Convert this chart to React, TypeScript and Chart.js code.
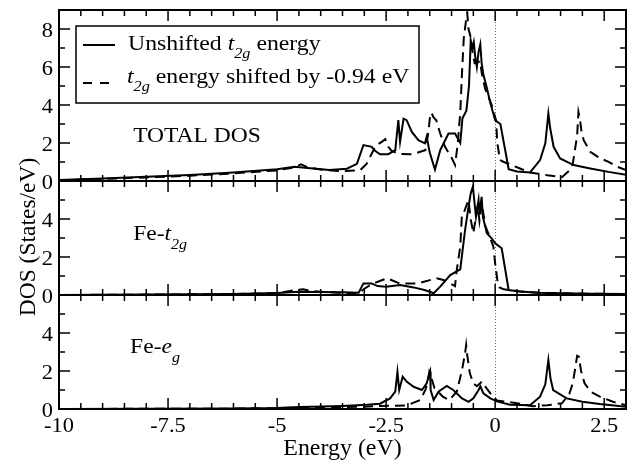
import React, { useEffect, useRef } from "react";
import { Chart, registerables } from "chart.js";
Chart.register(...registerables);

const FONT = '"Liberation Serif", "Times New Roman", serif';

// ---------- DATA ----------
const xMin = -10;
const xMax = 3;
const xMinorStep = 0.5;
const xMajorStep = 2.5;
const xTickValues = [-10, -7.5, -5, -2.5, 0, 2.5];
const xTickLabels = ["-10", "-7.5", "-5", "-2.5", "0", "2.5"];

const panelIds = ["yTotal", "yT2g", "yEg"];
const panelMax = [9, 6, 6];
const panelTickLabels = [
  [0, 2, 4, 6, 8],
  [0, 2, 4],
  [0, 2, 4],
];

// TOTAL DOS
const totalUnshiftedE = [-10, -9, -8, -7, -6, -5, -4.6, -4.3, -3.8, -3.4, -3.17, -3.02, -2.83, -2.76, -2.64, -2.45, -2.29, -2.22, -2.18, -2.10, -2.03, -1.91, -1.76, -1.61, -1.57, -1.5, -1.38, -1.26, -1.07, -0.92, -0.80, -0.75, -0.66, -0.60, -0.56, -0.52, -0.49, -0.46, -0.42, -0.38, -0.34, -0.31, -0.27, -0.19, -0.115, 0.0, 0.12, 0.31, 0.5, 0.8, 1.03, 1.15, 1.22, 1.26, 1.34, 1.49, 1.8, 2.18, 2.6, 3.0];
const totalUnshiftedV = [0.05, 0.13, 0.22, 0.32, 0.45, 0.62, 0.75, 0.68, 0.58, 0.65, 0.9, 1.89, 1.8, 1.6, 1.41, 1.41, 1.62, 3.2, 2.06, 3.28, 3.2, 2.58, 2.15, 1.98, 2.32, 1.5, 0.6, 1.62, 2.5, 2.5, 2.0, 3.3, 3.7, 5.0, 7.4, 7.0, 7.3, 6.6, 6.0, 6.8, 7.2, 6.2, 5.6, 4.9, 4.15, 3.2, 3.0, 0.62, 0.5, 0.45, 1.1, 1.98, 3.55, 2.8, 1.8, 1.19, 0.84, 0.66, 0.48, 0.33];

const totalShiftedE = [-10, -9, -8, -7, -6, -5, -4.6, -4.45, -4.3, -4.0, -3.6, -3.1, -2.95, -2.79, -2.72, -2.6, -2.52, -2.45, -2.38, -2.2, -1.9, -1.7, -1.6, -1.53, -1.49, -1.46, -1.42, -1.35, -1.26, -1.15, -0.99, -0.92, -0.86, -0.80, -0.76, -0.72, -0.665, -0.64, -0.61, -0.57, -0.52, -0.47, -0.42, -0.34, -0.31, -0.23, -0.15, -0.08, 0.02, 0.05, 0.11, 0.2, 0.57, 0.8, 1.2, 1.53, 1.7, 1.78, 1.84, 1.88, 1.91, 1.94, 1.98, 2.03, 2.18, 2.4, 2.6, 2.8, 3.0];
const totalShiftedV = [0.04, 0.11, 0.19, 0.28, 0.4, 0.56, 0.72, 0.88, 0.72, 0.6, 0.52, 0.56, 0.9, 1.62, 1.89, 2.06, 2.2, 1.8, 1.6, 1.42, 1.41, 1.55, 1.62, 2.58, 3.46, 3.6, 3.37, 3.2, 2.5, 1.8, 1.19, 0.84, 1.9, 3.6, 5.7, 7.5, 8.5, 8.85, 8.0, 7.65, 6.8, 6.2, 6.25, 6.3, 5.7, 4.86, 4.42, 4.0, 3.2, 2.0, 1.1, 1.0, 0.66, 0.45, 0.3, 0.2, 0.55, 0.9, 1.8, 2.4, 3.63, 3.3, 2.6, 2.15, 1.54, 1.2, 1.01, 0.75, 0.58];

// Fe-t2g
const t2gUnshiftedE = [-10, -8, -6, -5, -4.5, -4, -3.5, -3.13, -3.02, -2.83, -2.7, -2.5, -2.18, -1.87, -1.6, -1.41, -1.26, -1.03, -0.80, -0.69, -0.61, -0.56, -0.51, -0.48, -0.44, -0.38, -0.36, -0.31, -0.28, -0.19, -0.08, 0.0, 0.15, 0.31, 0.57, 1.0, 1.5, 2.2, 3.0];
const t2gUnshiftedV = [0.0, 0.02, 0.05, 0.1, 0.17, 0.16, 0.14, 0.12, 0.61, 0.61, 0.47, 0.44, 0.53, 0.4, 0.25, 0.09, 0.44, 1.05, 1.35, 3.42, 4.65, 5.35, 5.7, 5.0, 4.12, 5.0, 4.3, 5.17, 4.1, 3.25, 2.98, 2.72, 2.46, 0.26, 0.18, 0.12, 0.09, 0.07, 0.05];

const t2gShiftedE = [-10, -8, -6, -5, -4.6, -4.4, -4.2, -3.5, -3.13, -3.0, -2.8, -2.48, -2.18, -1.8, -1.34, -1.19, -0.92, -0.88, -0.80, -0.76, -0.71, -0.66, -0.61, -0.57, -0.50, -0.45, -0.40, -0.36, -0.31, -0.22, -0.11, -0.04, 0.0, 0.05, 0.1, 0.2, 0.5, 1.0, 2.0, 3.0];
const t2gShiftedV = [0.0, 0.02, 0.05, 0.1, 0.25, 0.3, 0.2, 0.1, 0.08, 0.33, 0.6, 0.88, 0.6, 0.6, 0.88, 0.79, 0.47, 1.32, 2.54, 4.3, 4.38, 4.7, 5.0, 4.1, 3.25, 4.0, 4.7, 3.9, 4.8, 3.6, 2.98, 2.54, 1.67, 0.79, 0.4, 0.3, 0.2, 0.12, 0.07, 0.05];

// Fe-eg
const egUnshiftedE = [-10, -8, -6, -5, -4.47, -3.5, -2.94, -2.64, -2.41, -2.29, -2.24, -2.2, -2.12, -2.03, -1.87, -1.68, -1.57, -1.49, -1.48, -1.41, -1.30, -1.11, -0.96, -0.76, -0.61, -0.5, -0.38, -0.34, -0.27, -0.11, 0.04, 0.34, 0.8, 1.03, 1.15, 1.22, 1.27, 1.33, 1.64, 2.0, 2.4, 3.0];
const egUnshiftedV = [0.0, 0.01, 0.03, 0.05, 0.1, 0.16, 0.22, 0.28, 0.56, 0.91, 1.96, 1.0, 1.7, 1.44, 1.17, 1.0, 1.35, 1.96, 1.0, 0.47, 0.91, 1.21, 1.0, 0.56, 0.38, 0.56, 1.0, 1.2, 0.82, 0.56, 0.4, 0.22, 0.2, 0.65, 1.3, 2.58, 1.6, 1.0, 0.56, 0.38, 0.26, 0.12];

const egShiftedE = [-10, -8, -6, -5, -4.47, -3.0, -2.64, -2.03, -1.72, -1.6, -1.55, -1.51, -1.47, -1.39, -1.2, -1.05, -0.88, -0.76, -0.69, -0.665, -0.64, -0.58, -0.5, -0.42, -0.3, -0.2, -0.11, 0.04, 0.5, 0.86, 1.2, 1.53, 1.7, 1.78, 1.84, 1.88, 1.92, 1.97, 2.05, 2.2, 2.4, 2.7, 3.0];
const egShiftedV = [0.0, 0.01, 0.02, 0.04, 0.08, 0.12, 0.16, 0.18, 0.47, 1.0, 1.4, 1.96, 1.7, 1.09, 0.65, 0.47, 0.91, 2.05, 2.93, 3.37, 2.84, 1.88, 1.35, 1.2, 1.45, 1.1, 0.82, 0.45, 0.3, 0.15, 0.2, 0.3, 0.8, 1.35, 2.2, 2.8, 2.75, 2.0, 1.35, 0.9, 0.65, 0.38, 0.2];

const legendLabels = ["Unshifted", "energy shifted by -0.94 eV"];
const panelLabels = ["TOTAL DOS", "Fe-", "Fe-"];
// ---------- END DATA ----------

const toPoints = (xs: number[], ys: number[]) => xs.map((x, i) => ({ x, y: ys[i] }));

type Run = { t: string; size: number; italic?: boolean; dy?: number };

function runsWidth(ctx: CanvasRenderingContext2D, runs: Run[], sx: number) {
  let w = 0;
  for (const r of runs) {
    ctx.font = `${r.italic ? "italic " : ""}${r.size}px ${FONT}`;
    w += ctx.measureText(r.t).width * sx;
  }
  return w;
}

function drawRuns(ctx: CanvasRenderingContext2D, runs: Run[], x: number, y: number, sx: number) {
  let cx = x;
  ctx.textAlign = "left";
  ctx.textBaseline = "alphabetic";
  for (const r of runs) {
    ctx.font = `${r.italic ? "italic " : ""}${r.size}px ${FONT}`;
    ctx.save();
    ctx.translate(cx, y + (r.dy || 0));
    ctx.scale(sx, 1);
    ctx.fillText(r.t, 0, 0);
    ctx.restore();
    cx += ctx.measureText(r.t).width * sx;
  }
}

const decorPlugin = {
  id: "decor",
  beforeDatasetsDraw(chart: any) {
    const ctx: CanvasRenderingContext2D = chart.ctx;
    const ca = chart.chartArea;
    const x0 = chart.scales.x.getPixelForValue(0);
    ctx.save();
    ctx.strokeStyle = "#666";
    ctx.lineWidth = 1;
    ctx.setLineDash([1, 2]);
    ctx.beginPath();
    ctx.moveTo(Math.round(x0) + 0.5, ca.top);
    ctx.lineTo(Math.round(x0) + 0.5, ca.bottom);
    ctx.stroke();
    ctx.restore();
  },
  afterDatasetsDraw(chart: any) {
    const ctx: CanvasRenderingContext2D = chart.ctx;
    const ca = chart.chartArea;
    const xs = chart.scales.x;
    ctx.save();
    ctx.fillStyle = "#000";
    ctx.strokeStyle = "#000";

    const panels = panelIds.map((id, i) => {
      const s = chart.scales[id];
      return { s, top: s.getPixelForValue(panelMax[i]), bottom: s.getPixelForValue(0), max: panelMax[i] };
    });

    // ticks
    ctx.lineWidth = 1.5;
    const nX = Math.round((xMax - xMin) / xMinorStep);
    for (const p of panels) {
      for (let k = 0; k <= nX; k++) {
        const v = xMin + k * xMinorStep;
        const r = v / xMajorStep;
        const major = Math.abs(r - Math.round(r)) < 1e-9;
        const len = major ? 11 : 6;
        const px = xs.getPixelForValue(v);
        ctx.beginPath();
        ctx.moveTo(px, p.bottom);
        ctx.lineTo(px, p.bottom - len);
        ctx.moveTo(px, p.top);
        ctx.lineTo(px, p.top + len);
        ctx.stroke();
      }
      for (let v = 0; v <= p.max; v++) {
        const major = v % 2 === 0;
        const len = major ? 11 : 6;
        const py = p.s.getPixelForValue(v);
        ctx.beginPath();
        ctx.moveTo(ca.left, py);
        ctx.lineTo(ca.left + len, py);
        ctx.moveTo(ca.right, py);
        ctx.lineTo(ca.right - len, py);
        ctx.stroke();
      }
    }

    // frame + separators
    ctx.lineWidth = 2;
    ctx.strokeRect(ca.left, ca.top, ca.right - ca.left, ca.bottom - ca.top);
    for (let i = 0; i < panels.length - 1; i++) {
      ctx.beginPath();
      ctx.moveTo(ca.left, panels[i].bottom);
      ctx.lineTo(ca.right, panels[i].bottom);
      ctx.stroke();
    }

    // y tick labels
    const tickSize = 20;
    const tickSx = 1.12;
    panels.forEach((p, i) => {
      for (const v of panelTickLabels[i]) {
        const py = p.s.getPixelForValue(v);
        const runs = [{ t: String(v), size: tickSize }];
        const w = runsWidth(ctx, runs, tickSx);
        drawRuns(ctx, runs, ca.left - 6 - w, py + 8, tickSx);
      }
    });
    // x tick labels
    xTickValues.forEach((v, i) => {
      const px = xs.getPixelForValue(v);
      const runs = [{ t: xTickLabels[i], size: tickSize }];
      const w = runsWidth(ctx, runs, tickSx);
      drawRuns(ctx, runs, px - w / 2, ca.bottom + 23, tickSx);
    });

    // axis titles
    const xt = [{ t: "Energy (eV)", size: 23 }];
    const xtw = runsWidth(ctx, xt, 1.04);
    drawRuns(ctx, xt, (ca.left + ca.right) / 2 - xtw / 2, ca.bottom + 46, 1.04);

    ctx.save();
    ctx.translate(35, 237);
    ctx.rotate(-Math.PI / 2);
    const yt = [{ t: "DOS (States/eV)", size: 23.5 }];
    const ytw = runsWidth(ctx, yt, 1);
    drawRuns(ctx, yt, -ytw / 2, 0, 1);
    ctx.restore();

    // panel labels
    const lx = xs.getPixelForValue(-8.3);
    drawRuns(ctx, [{ t: panelLabels[0], size: 22 }], lx, panels[0].s.getPixelForValue(2.05), 1.07);
    drawRuns(
      ctx,
      [
        { t: panelLabels[1], size: 22 },
        { t: "t", size: 22, italic: true },
        { t: "2g", size: 15, italic: true, dy: 9 },
      ],
      lx,
      panels[1].s.getPixelForValue(2.9),
      1.07
    );
    drawRuns(
      ctx,
      [
        { t: panelLabels[2], size: 22 },
        { t: "e", size: 22, italic: true },
        { t: "g", size: 15, italic: true, dy: 9 },
      ],
      xs.getPixelForValue(-8.37),
      panels[2].s.getPixelForValue(2.95),
      1.07
    );

    // legend
    const bx = ca.left + 17;
    const by = ca.top + 16;
    ctx.lineWidth = 1.5;
    ctx.strokeRect(bx, by, 343, 77);
    ctx.lineWidth = 2;
    ctx.beginPath();
    ctx.moveTo(bx + 7, by + 19);
    ctx.lineTo(bx + 39, by + 19);
    ctx.stroke();
    ctx.save();
    ctx.setLineDash([9, 8]);
    ctx.beginPath();
    ctx.moveTo(bx + 7, by + 57);
    ctx.lineTo(bx + 39, by + 57);
    ctx.stroke();
    ctx.restore();
    const lsx = 1.08;
    drawRuns(
      ctx,
      [
        { t: legendLabels[0] + " ", size: 22 },
        { t: "t", size: 22, italic: true },
        { t: "2g", size: 15, italic: true, dy: 8 },
        { t: " energy", size: 22 },
      ],
      bx + 52,
      by + 24,
      lsx
    );
    drawRuns(
      ctx,
      [
        { t: "t", size: 22, italic: true },
        { t: "2g", size: 15, italic: true, dy: 8 },
        { t: " " + legendLabels[1], size: 22 },
      ],
      bx + 51,
      by + 57,
      lsx
    );
    ctx.restore();
  },
};

export default function App() {
  const ref = useRef<HTMLCanvasElement>(null);
  useEffect(() => {
    const total = panelMax.reduce((a, b) => a + b, 0);
    const scales: any = {
      x: { type: "linear", min: xMin, max: xMax, display: false },
    };
    panelIds.forEach((id, i) => {
      const above = panelMax.slice(0, i).reduce((a, b) => a + b, 0);
      const below = total - above - panelMax[i];
      scales[id] = { type: "linear", min: -below, max: panelMax[i] + above, display: false };
    });
    const mk = (xsArr: number[], ysArr: number[], axis: string, dashed: boolean) => ({
      data: toPoints(xsArr, ysArr),
      yAxisID: axis,
      borderColor: "#000",
      borderWidth: 2,
      borderDash: dashed ? [10, 6] : [],
      pointRadius: 0,
      tension: 0,
      fill: false,
    });
    const chart = new Chart(ref.current!, {
      type: "line",
      data: {
        datasets: [
          mk(totalUnshiftedE, totalUnshiftedV, "yTotal", false),
          mk(totalShiftedE, totalShiftedV, "yTotal", true),
          mk(t2gUnshiftedE, t2gUnshiftedV, "yT2g", false),
          mk(t2gShiftedE, t2gShiftedV, "yT2g", true),
          mk(egUnshiftedE, egUnshiftedV, "yEg", false),
          mk(egShiftedE, egShiftedV, "yEg", true),
        ],
      },
      options: {
        responsive: false,
        animation: false,
        events: [],
        layout: { padding: { left: 59, right: 5, top: 10, bottom: 52 } },
        scales,
        plugins: { legend: { display: false }, tooltip: { enabled: false } },
      },
      plugins: [decorPlugin],
    } as any);
    return () => chart.destroy();
  }, []);
  return (
    <div style={{ position: "absolute", left: 0, top: 0, width: 631, height: 461, background: "#fff" }}>
      <canvas ref={ref} width={631} height={461} style={{ display: "block" }} />
    </div>
  );
}
